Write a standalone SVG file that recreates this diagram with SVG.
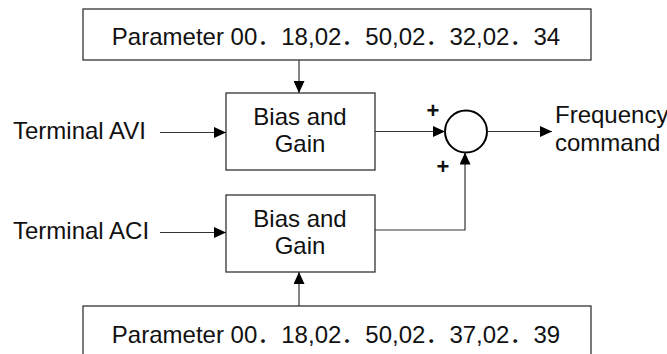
<svg xmlns="http://www.w3.org/2000/svg" width="667" height="354" viewBox="0 0 667 354">
<style>
.box{fill:#fff;stroke:#333;stroke-width:1.3}
.t{font-family:"Liberation Sans","Noto Sans CJK JP",Arial,sans-serif;font-size:24px;fill:#111}
.c{text-anchor:middle}
.ln{fill:none;stroke:#333;stroke-width:1.2}
.plus{font-family:"Liberation Sans",Arial,sans-serif;font-size:22px;font-weight:bold;fill:#111;text-anchor:middle}
</style>
<defs>
<marker id="ah" markerWidth="12" markerHeight="11" refX="12" refY="5.5" orient="auto" markerUnits="userSpaceOnUse">
<path d="M0,0 L12,5.5 L0,11 Z" fill="#000"/>
</marker>
</defs>
<rect width="667" height="354" fill="#fff"/>
<g id="param-top">
<rect class="box" x="83" y="9" width="508" height="51"/>
<text class="t c" x="336" y="45">Parameter 00．18,02．50,02．32,02．34</text>
</g>
<g id="param-bottom">
<rect class="box" x="83" y="306" width="508" height="60"/>
<text class="t c" x="336" y="343">Parameter 00．18,02．50,02．37,02．39</text>
</g>
<g id="terminal-avi">
<text class="t" x="13" y="139">Terminal AVI</text>
</g>
<g id="terminal-aci">
<text class="t" x="13" y="239">Terminal ACI</text>
</g>
<g id="bias-gain-1">
<rect class="box" x="226" y="93" width="149" height="77"/>
<text class="t c" x="300" y="125">Bias and</text>
<text class="t c" x="300" y="152">Gain</text>
</g>
<g id="bias-gain-2">
<rect class="box" x="226" y="195" width="149" height="77"/>
<text class="t c" x="300" y="227">Bias and</text>
<text class="t c" x="300" y="254">Gain</text>
</g>
<g id="sum">
<circle cx="466" cy="131.5" r="21" fill="#fff" stroke="#000" stroke-width="2"/>
<text class="plus" x="433" y="118">+</text>
<text class="plus" x="443" y="174">+</text>
</g>
<g id="output">
<text class="t" x="555" y="123">Frequency</text>
<text class="t" x="555" y="151">command</text>
</g>
<g id="connectors">
<line class="ln" x1="299" y1="60" x2="299" y2="93" marker-end="url(#ah)"/>
<line class="ln" x1="299" y1="306" x2="299" y2="272" marker-end="url(#ah)"/>
<line class="ln" x1="160" y1="132.5" x2="226" y2="132.5" marker-end="url(#ah)"/>
<line class="ln" x1="160" y1="232.5" x2="226" y2="232.5" marker-end="url(#ah)"/>
<line class="ln" x1="375" y1="131.5" x2="445" y2="131.5" marker-end="url(#ah)"/>
<line class="ln" x1="487" y1="131.5" x2="552" y2="131.5" marker-end="url(#ah)"/>
<polyline class="ln" points="375,230 465,230 465,152.5" marker-end="url(#ah)"/>
</g>
</svg>
